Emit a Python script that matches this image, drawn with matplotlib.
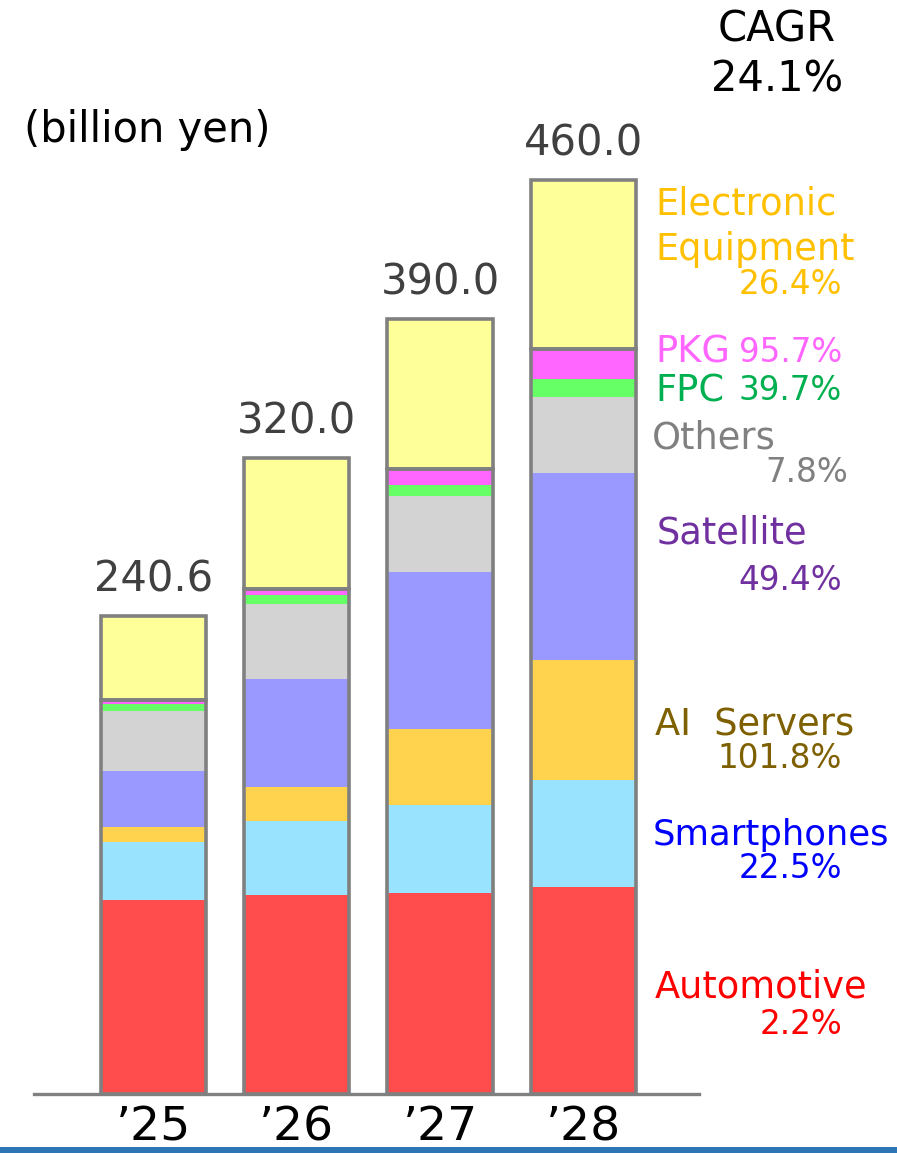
import matplotlib.pyplot as plt
from matplotlib.patches import Rectangle

# values (billion yen)
years = ["\u201925", "\u201926", "\u201927", "\u201928"]
totals = [240.6, 320.0, 390.0, 460.0]
automotive = [97.7, 100.2, 101.2, 104.1]
smartphones = [29.4, 37.1, 44.2, 54.2]
ai_servers = [7.4, 17.1, 38.3, 60.1]
satellite = [28.2, 54.7, 78.9, 94.2]
others = [30.4, 37.5, 38.3, 38.4]
fpc = [3.3, 4.7, 5.9, 8.9]
pkg = [1.9, 3.0, 8.1, 15.1]
electronic = [42.3, 65.7, 75.1, 85.0]

seg_colors = ["#FF4D4D", "#99E3FF", "#FFD34D", "#9999FF",
              "#D3D3D3", "#66FF66", "#FF66FF", "#FFFF99"]
lower = [automotive, smartphones, ai_servers, satellite, others, fpc, pkg]

W, H = 897, 1153
fig = plt.figure(figsize=(W / 100, H / 100), dpi=100)
plt.rcParams['font.family'] = ['DejaVu Sans']

base_px = 1094
scale = 1.986  # px per billion yen
ax = fig.add_axes([34 / W, (H - base_px) / H, 665 / W, base_px / H])
ax.set_xlim(-0.833, 3.807)
ax.set_ylim(0, base_px / scale)

x = list(range(len(years)))
width = 0.733
bottom = [0.0] * 4
for vals, c in zip(lower + [electronic], seg_colors):
    ax.bar(x, vals, width, bottom=bottom, color=c, linewidth=0, zorder=2)
    bottom = [b + v for b, v in zip(bottom, vals)]

# outlines: lower stack and electronic equipment box
low_sum = [sum(v[i] for v in lower) for i in x]
ax.bar(x, low_sum, width, fill=False, edgecolor="#808080", linewidth=2.6, zorder=3)
ax.bar(x, electronic, width, bottom=low_sum, fill=False, edgecolor="#808080",
       linewidth=2.6, zorder=3)

for i, t in enumerate(totals):
    ax.text(i, t + 8, f"{t:.1f}", ha='center', va='bottom', fontsize=30, color="#404040")

for s in ['top', 'right', 'left']:
    ax.spines[s].set_visible(False)
ax.spines['bottom'].set_color("#808080")
ax.spines['bottom'].set_linewidth(2.4)
ax.set_yticks([])
ax.set_xticks(x)
ax.set_xticklabels(years, fontsize=34)
ax.tick_params(axis='x', length=0, pad=8)


def ftext(px, py, s, **kw):
    fig.text(px / W, 1 - py / H, s, va='center', **kw)


ftext(24, 130, "(billion yen)", fontsize=30, color="black")
ftext(777, 30, "CAGR", fontsize=30, color="black", ha='center')
ftext(777, 80, "24.1%", fontsize=30, color="black", ha='center')

# segment labels with CAGR
ftext(655, 204, "Electronic", fontsize=26.5, color="#FFC000")
ftext(655, 250, "Equipment", fontsize=26.5, color="#FFC000")
ftext(842, 285, "26.4%", fontsize=23.5, color="#FFC000", ha='right')
ftext(655, 352, "PKG", fontsize=26.5, color="#FF66FF")
ftext(842, 352, "95.7%", fontsize=23.5, color="#FF66FF", ha='right')
ftext(655, 391, "FPC", fontsize=26.5, color="#00B050")
ftext(842, 391, "39.7%", fontsize=23.5, color="#00B050", ha='right')
ftext(652, 438, "Others", fontsize=26.5, color="#808080")
ftext(848, 472, "7.8%", fontsize=23.5, color="#808080", ha='right')
ftext(657, 533, "Satellite", fontsize=26.5, color="#7030A0")
ftext(842, 580, "49.4%", fontsize=23.5, color="#7030A0", ha='right')
ftext(655, 725, "AI  Servers", fontsize=26.5, color="#7F6000")
ftext(842, 758, "101.8%", fontsize=23.5, color="#7F6000", ha='right')
ftext(653, 835, "Smartphones", fontsize=25.5, color="#0000FF")
ftext(842, 868, "22.5%", fontsize=23.5, color="#0000FF", ha='right')
ftext(655, 987, "Automotive", fontsize=26.5, color="#FF0000")
ftext(842, 1025, "2.2%", fontsize=23.5, color="#FF0000", ha='right')

fig.add_artist(Rectangle((0, 0), 1, 6 / H, transform=fig.transFigure,
                         color="#2E75B6", linewidth=0))

fig.savefig("out.png", dpi=100)
